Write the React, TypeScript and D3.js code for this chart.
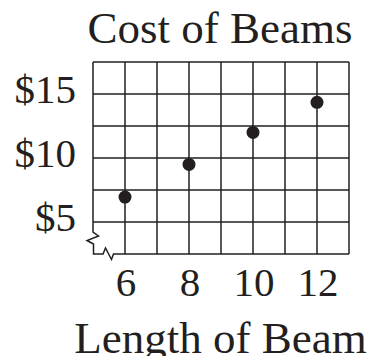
import React from 'react';
import * as d3 from 'd3';

// beam length (ft) and cost ($)
const lengths = [6, 8, 10, 12];
const costs = [6.95, 9.5, 12, 14.35];
const xTicks = [6, 8, 10, 12];
const yTicks = [5, 10, 15];
const xGrid = [6, 7, 8, 9, 10, 11, 12, 13];
const yGrid = [5, 7.5, 10, 12.5, 15, 17.5];

const W = 374;
const H = 356;
const ink = '#231f20';
const font = '"Liberation Serif", "Times New Roman", serif';

const App = () => {
  const x = d3.scaleLinear().domain([5, 13]).range([93, 349]);
  const y = d3.scaleLinear().domain([2.5, 17.5]).range([254, 62]);

  const x0 = x(5);
  const y0 = y(2.5);

  // left and bottom borders with the axis break zigzags
  const border = d3.line()([
    [x0, y(17.5)],
    [x0, y0 - 22],
    [x0 + 5.5, y0 - 18],
    [x0 - 6, y0 - 13.5],
    [x0 + 0.5, y0 - 10],
    [x0 + 0.5, y0],
    [x0 + 10, y0],
    [x0 + 12.5, y0 - 6],
    [x0 + 18.5, y0 + 5.5],
    [x0 + 20.5, y0],
    [x(13), y0],
  ]);

  return (
    <svg
      width={W}
      height={H}
      style={{ position: 'absolute', left: 0, top: 0, background: '#fff' }}
    >
      <g stroke={ink} strokeWidth={1.5} fill="none">
        {xGrid.map((d) => (
          <line key={'vx' + d} x1={x(d)} x2={x(d)} y1={y(17.5)} y2={y0} />
        ))}
        {yGrid.map((d) => (
          <line key={'hy' + d} x1={x0} x2={x(13)} y1={y(d)} y2={y(d)} />
        ))}
        <path d={border || ''} strokeLinejoin="miter" />
      </g>

      <g fill={ink}>
        {lengths.map((d, i) => (
          <circle key={d} cx={x(d)} cy={y(costs[i])} r={6.5} />
        ))}
      </g>

      <g fontFamily={font} fontSize={41} fill={ink}>
        {xTicks.map((d) => (
          <text key={'xt' + d} x={x(d) + 1} y={296} textAnchor="middle">
            {d}
          </text>
        ))}
        {yTicks.map((d) => (
          <text key={'yt' + d} x={76} y={y(d) + 9} textAnchor="end">
            {'$' + d}
          </text>
        ))}
      </g>

      <g fontFamily={font} fontSize={45} fill={ink} textAnchor="middle">
        <text x={220} y={43}>Cost of Beams</text>
        <text x={220.5} y={353}>Length of Beam</text>
      </g>
    </svg>
  );
};

export default App;
